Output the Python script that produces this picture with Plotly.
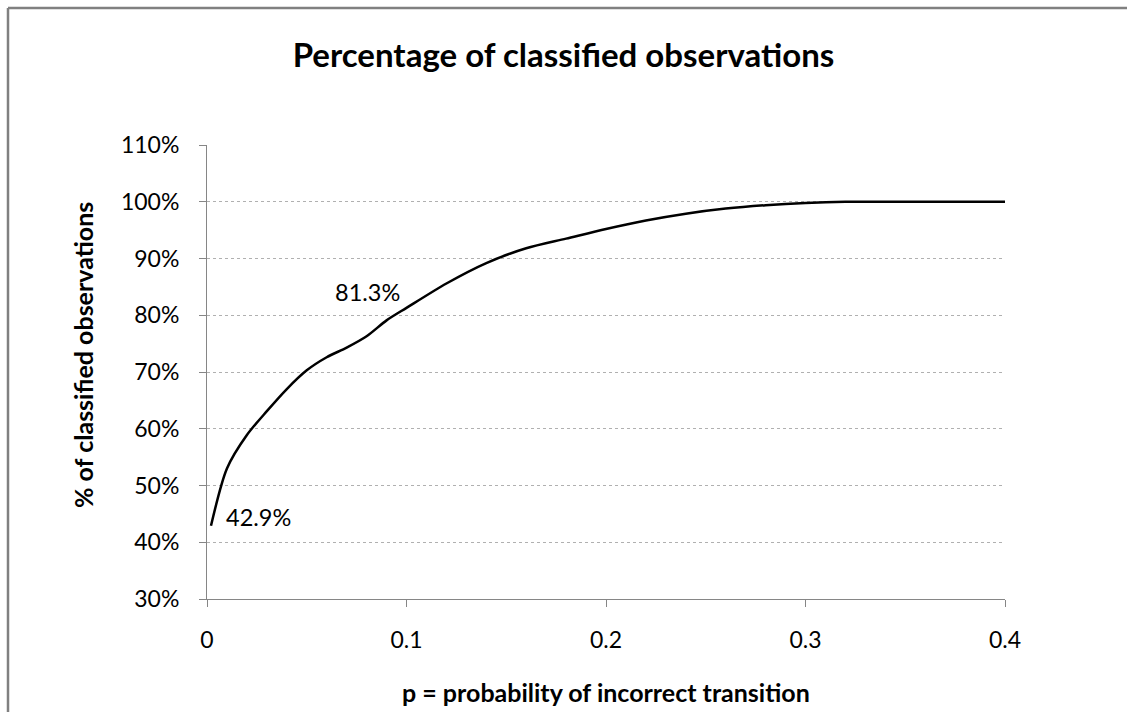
import plotly.graph_objects as go

# Data
p_values = [0.002, 0.01, 0.02, 0.03, 0.04, 0.05, 0.06, 0.07, 0.08, 0.09, 0.10,
            0.12, 0.14, 0.16, 0.18, 0.20, 0.22, 0.24, 0.26, 0.28, 0.30,
            0.32, 0.34, 0.36, 0.38, 0.40]
classified_pct = [42.9, 53.0, 58.9, 63.1, 67.0, 70.3, 72.6, 74.3, 76.3, 79.1, 81.3,
                  85.6, 89.2, 91.8, 93.5, 95.2, 96.7, 97.9, 98.8, 99.4, 99.8,
                  100.0, 100.0, 100.0, 100.0, 100.0]
x_ticks = [0, 0.1, 0.2, 0.3, 0.4]
x_tick_labels = ["0", "0.1", "0.2", "0.3", "0.4"]
y_ticks = [30, 40, 50, 60, 70, 80, 90, 100, 110]
y_tick_labels = [f"{v}%" for v in y_ticks]
labels = [(0.002, 42.9, "42.9%", 48, 9), (0.10, 81.3, "81.3%", -39, 16)]

FONT = "Lato"
W, H = 1127, 712
L, R, T, B = 207, 122, 145, 113

fig = go.Figure()
fig.add_trace(go.Scatter(
    x=p_values, y=classified_pct, mode="lines",
    line=dict(color="black", width=2.5, shape="spline", smoothing=0.8),
    showlegend=False, hoverinfo="skip"))

for x, y, txt, dx, dy in labels:
    fig.add_annotation(x=x, y=y, text=txt, showarrow=False, xshift=dx, yshift=dy,
                       font=dict(family=FONT, size=23.5, color="black"))

pw, ph = W - L - R, H - T - B
def px2paper(xpix, ypix):
    return (xpix - L) / pw, (H - B - ypix) / ph

# axis titles
xt, yt = px2paper(606, 692)
fig.add_annotation(xref="paper", yref="paper", x=xt, y=yt, text="<b>p = probability of incorrect transition</b>",
                   showarrow=False, font=dict(family=FONT, size=25, color="black"),
                   xanchor="center", yanchor="middle")
xt, yt = px2paper(83, 355)
fig.add_annotation(xref="paper", yref="paper", x=xt, y=yt, text="<b>% of classified observations</b>",
                   showarrow=False, textangle=-90, font=dict(family=FONT, size=25, color="black"),
                   xanchor="center", yanchor="middle")

# outer frame: only the top and left edges are visible in the reference
xa, ya = px2paper(8, 8)
xb, yb = px2paper(W, H)
fig.add_shape(type="line", xref="paper", yref="paper", x0=xa, y0=ya, x1=xb, y1=ya,
              line=dict(color="#808080", width=2.5), layer="above")
fig.add_shape(type="line", xref="paper", yref="paper", x0=xa, y0=ya, x1=xa, y1=yb,
              line=dict(color="#808080", width=2.5), layer="above")

fig.update_layout(
    width=W, height=H,
    margin=dict(l=L, r=R, t=T, b=B, autoexpand=False),
    paper_bgcolor="white", plot_bgcolor="white",
    title=dict(text="<b>Percentage of classified observations</b>", x=0.5, xref="container",
               xanchor="center", y=1 - 55 / H, yref="container", yanchor="middle",
               font=dict(family=FONT, size=33, color="black")),
    font=dict(family=FONT, color="black"),
)
fig.update_xaxes(range=[0, 0.4], tickvals=x_ticks, ticktext=x_tick_labels,
                 showgrid=False, zeroline=False, showline=True, linecolor="#868686", linewidth=1,
                 ticks="outside", ticklen=7, tickcolor="#868686",
                 tickfont=dict(family=FONT, size=23, color="black"), ticklabelstandoff=13)
fig.update_yaxes(range=[30, 110], tickvals=y_ticks, ticktext=y_tick_labels,
                 showgrid=True, gridcolor="#b0b0b0", griddash="dot", gridwidth=1,
                 zeroline=False, showline=True, linecolor="#868686", linewidth=1,
                 ticks="outside", ticklen=7, tickcolor="#868686",
                 tickfont=dict(family=FONT, size=23, color="black"), ticklabelstandoff=15)

fig.write_html("out.html")
